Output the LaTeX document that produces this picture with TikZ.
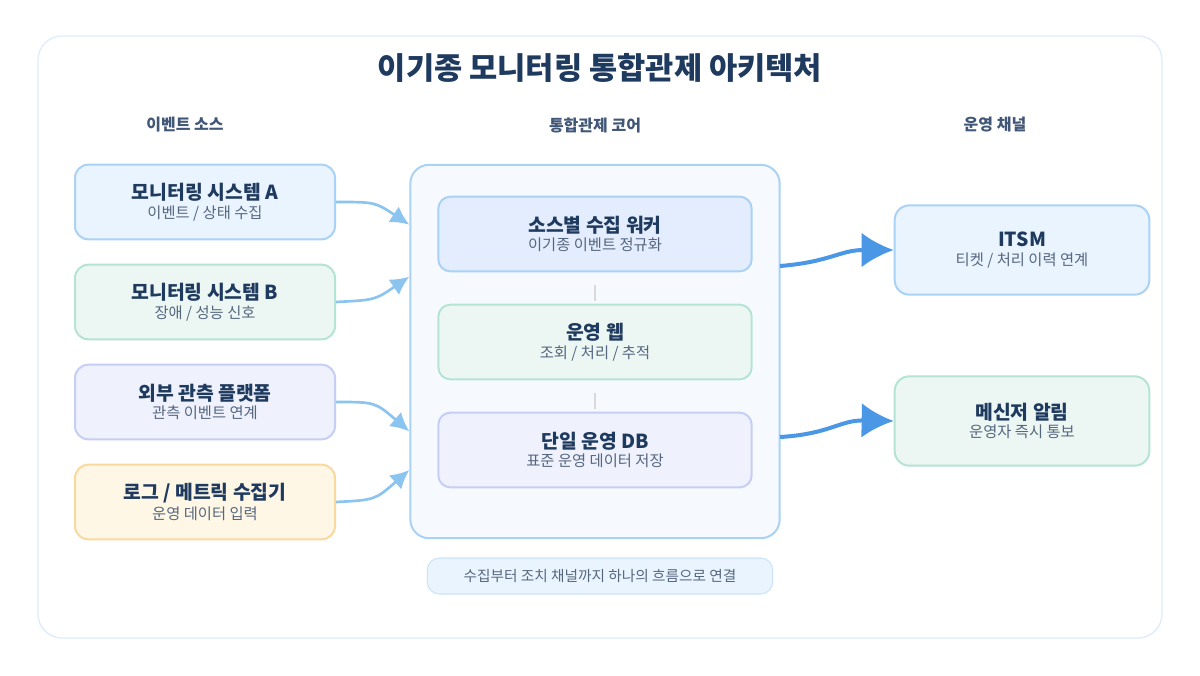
\documentclass[tikz,border=0pt]{standalone}
\usepackage{fontspec}
\setmainfont{Noto Sans CJK KR}
\usetikzlibrary{positioning,arrows.meta}
\definecolor{ink}{HTML}{1F3A5F}
\definecolor{subink}{HTML}{55667F}
\definecolor{blueline}{HTML}{A9D2F5}
\definecolor{bluefill}{HTML}{EAF4FE}
\definecolor{greenline}{HTML}{B5E3D5}
\definecolor{greenfill}{HTML}{ECF7F3}
\definecolor{violetline}{HTML}{C5CFF5}
\definecolor{violetfill}{HTML}{EFF2FD}
\definecolor{amberline}{HTML}{FAD9A0}
\definecolor{amberfill}{HTML}{FFF7E6}
\definecolor{lightarrow}{HTML}{8CC4F0}
\definecolor{darkarrow}{HTML}{4A97E6}

\begin{document}
\begin{tikzpicture}[x=0.75pt,y=-0.75pt,
source_box/.style={rectangle, rounded corners=10pt, line width=1.5pt, minimum width=195pt, minimum height=56pt, align=center},
core_box/.style={rectangle, rounded corners=9pt, line width=1.5pt, minimum width=235pt, minimum height=56pt, align=center},
channel_box/.style={rectangle, rounded corners=11pt, line width=1.5pt, minimum width=191pt, minimum height=67pt, align=center},
blue_box/.style={draw=blueline, fill=bluefill},
green_box/.style={draw=greenline, fill=greenfill},
violet_box/.style={draw=violetline, fill=violetfill},
amber_box/.style={draw=amberline, fill=amberfill},
head_text/.style={font=\bfseries\fontsize{12}{14}\selectfont, text=ink!85},
in_arrow/.style={-{Latex[length=14pt,width=14pt]}, line width=2pt, draw=lightarrow},
out_arrow/.style={-{Latex[length=24pt,width=26pt]}, line width=3pt, draw=darkarrow}
]
\newcommand{\boxtext}[2]{{\bfseries\fontsize{14.5}{17}\selectfont\color{ink}#1}\\[2pt]{\fontsize{11.5}{13}\selectfont\color{subink}#2}}

\useasboundingbox (0,0) rectangle (1200,675);
\fill[white] (0,0) rectangle (1200,675);
\draw[draw=blueline!40, fill=white, line width=1pt, rounded corners=18pt] (38,36) rectangle (1162,638);

% title and column heads
\node[font=\bfseries\fontsize{23}{27}\selectfont, text=ink](title) at (600,68) {이기종 모니터링 통합관제 아키텍처};
\node[head_text](head_src) at (185,125) {이벤트 소스};
\node[head_text](head_core) at (595,125) {통합관제 코어};
\node[head_text](head_out) at (995,125) {운영 채널};

% sources
\node[source_box, blue_box](src_a) at (205,202) {\boxtext{모니터링 시스템 A}{이벤트 / 상태 수집}};
\node[source_box, green_box](src_b) at (205,302) {\boxtext{모니터링 시스템 B}{장애 / 성능 신호}};
\node[source_box, violet_box](src_ext) at (205,402) {\boxtext{외부 관측 플랫폼}{관측 이벤트 연계}};
\node[source_box, amber_box](src_log) at (205,502) {\boxtext{로그 / 메트릭 수집기}{운영 데이터 입력}};

% core
\node[rectangle, rounded corners=14pt, line width=1.5pt, draw=blueline, fill=bluefill!45, minimum width=277pt, minimum height=280pt](core) at (595,351.5) {};
\node[core_box, draw=blueline, fill=blue!3!bluefill](worker) at (595,234) {\boxtext{소스별 수집 워커}{이기종 이벤트 정규화}};
\node[core_box, green_box](web) at (595,342) {\boxtext{운영 웹}{조회 / 처리 / 추적}};
\node[core_box, violet_box](db) at (595,450) {\boxtext{단일 운영 DB}{표준 운영 데이터 저장}};
\draw[gray!30, line width=0.8pt] (worker.south) ++(0,13) -- ++(0,16);
\draw[gray!30, line width=0.8pt] (web.south) ++(0,13) -- ++(0,16);

% channels
\node[channel_box, blue_box](itsm) at (1022,250) {\boxtext{ITSM}{티켓 / 처리 이력 연계}};
\node[channel_box, green_box](msg) at (1022,421) {\boxtext{메신저 알림}{운영자 즉시 통보}};

% footer
\node[rectangle, rounded corners=9pt, draw=blueline!60, fill=bluefill, line width=0.8pt, minimum width=259pt, minimum height=27pt, font=\fontsize{11}{13}\selectfont, text=subink](note) at (600,576) {수집부터 조치 채널까지 하나의 흐름으로 연결};

% arrows
\draw[in_arrow] (src_a.east) .. controls (375,202) .. ([yshift=-17]core.west |- src_a.east);
\draw[in_arrow] (src_b.east) .. controls (375,300) .. ([yshift=19]core.west |- src_b.east);
\draw[in_arrow] (src_ext.east) .. controls (375,402) .. ([yshift=-22]core.west |- src_ext.east);
\draw[in_arrow] (src_log.east) .. controls (375,500) .. ([yshift=24]core.west |- src_log.east);
\draw[out_arrow] (780,266) .. controls (830,262) and (840,250) .. (itsm.west);
\draw[out_arrow] (780,437) .. controls (830,434) and (840,420) .. (msg.west);
\end{tikzpicture}
\end{document}
